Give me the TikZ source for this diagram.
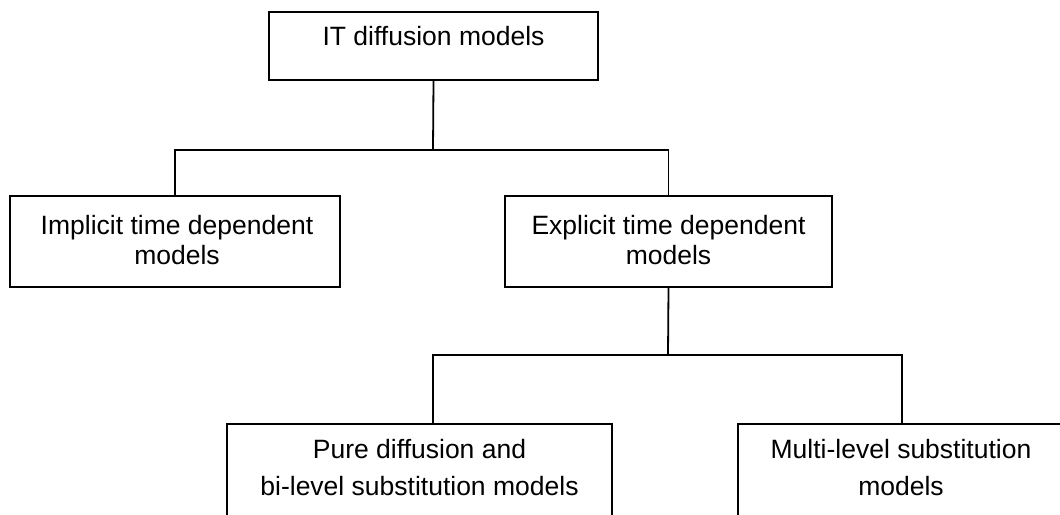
\documentclass[tikz,border=0pt]{standalone}
\usepackage{fontspec}
\setmainfont{Liberation Sans}
\begin{document}
\begin{tikzpicture}[x=1pt,y=-1pt,
  box/.style={draw=black,line width=1.8pt,rectangle,inner sep=0pt},
  lbl/.style={anchor=base,inner sep=0pt,font=\fontsize{26.5}{30}\selectfont},
  link/.style={draw=black,line width=1.8pt}]
\useasboundingbox (0,0) rectangle (1060,514);
\clip (0,0) rectangle (1060,514);
\fill[white] (0,0) rectangle (1060,514);

% boxes
\node[box,minimum width=329pt,minimum height=68pt] (top) at (433.5,46) {};
\node[box,minimum width=330pt,minimum height=91pt] (impl) at (175,241.5) {};
\node[box,minimum width=327pt,minimum height=91pt] (expl) at (668.5,241.5) {};
\node[box,minimum width=385pt,minimum height=116pt] (pure) at (419.5,482) {};
\node[box,minimum width=336pt,minimum height=116pt] (multi) at (906,482) {};

% labels
\node[lbl] (topA) at (433.5,45) {IT diffusion models};
\node[lbl] (implA) at (177,234) {Implicit time dependent};
\node[lbl] (implB) at (177,264) {models};
\node[lbl] (explA) at (668.5,234) {Explicit time dependent};
\node[lbl] (explB) at (668.5,264) {models};
\node[lbl] (pureA) at (419.5,458) {Pure diffusion and};
\node[lbl] (pureB) at (419.5,495) {bi-level substitution models};
\node[lbl] (multiA) at (901,458) {Multi-level substitution};
\node[lbl] (multiB) at (901,495) {models};

% branch points
\coordinate (busA) at (433,150);
\coordinate (busB) at (668,355);
\coordinate (pureIn) at (433,424);
\coordinate (multiIn) at (902,424);

% connectors
\draw[link] (top.south) -- (busA);
\draw[link] (impl.north) -- (impl.north |- busA) -- (expl.north |- busA) -- (expl.north);
\draw[link] (expl.south) -- (busB);
\draw[link] (pureIn) -- (pureIn |- busB) -- (multiIn |- busB) -- (multiIn);
\end{tikzpicture}
\end{document}
